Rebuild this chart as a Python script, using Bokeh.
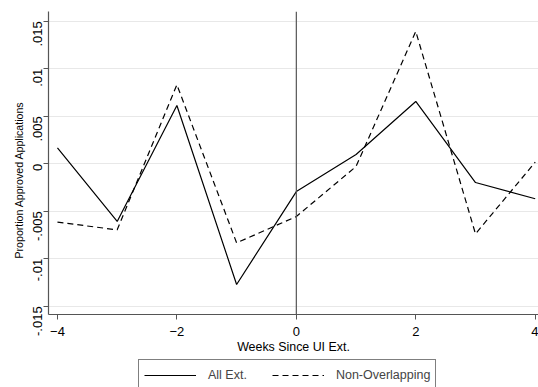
import math
from bokeh.plotting import figure
from bokeh.layouts import column
from bokeh.models import (FixedTicker, CustomJSTickFormatter, Span, Legend, LegendItem, Range1d, Title)
from bokeh.embed import file_html
from bokeh.resources import INLINE

weeks = [-4, -3, -2, -1, 0, 1, 2, 3, 4]
all_ext = [0.00168, -0.00607, 0.00614, -0.0127, -0.00292, 0.00098, 0.00656, -0.00197, -0.00368]
non_overlapping = [-0.00614, -0.00695, 0.00832, -0.00832, -0.00555, -0.00028, 0.01393, -0.00737, 0.00017]
x_ticks = [-4, -2, 0, 2, 4]
y_ticks = [-0.015, -0.01, -0.005, 0, 0.005, 0.01, 0.015]
series_labels = ["All Ext.", "Non-Overlapping"]

FONT = "Liberation Sans"
DASH = "6 4"

p = figure(width=538, height=356, output_backend="svg", toolbar_location=None,
           x_range=Range1d(-4.15, 4.055), y_range=Range1d(-0.01586, 0.01603),
           min_border_left=48, min_border_right=0, min_border_top=11, min_border_bottom=42)
p.outline_line_color = None
p.background_fill_color = "white"
p.border_fill_color = "white"

p.line(weeks, all_ext, line_color="black", line_width=1.2)
p.line(weeks, non_overlapping, line_color="black", line_width=1.2, line_dash=DASH)

p.add_layout(Span(location=0, dimension="height", line_color="#555555", line_width=1.2))

p.xgrid.visible = False
p.ygrid.grid_line_color = "#e8e8e8"
p.ygrid.grid_line_width = 1.2

p.xaxis.ticker = FixedTicker(ticks=x_ticks)
p.yaxis.ticker = FixedTicker(ticks=y_ticks)
p.yaxis.formatter = CustomJSTickFormatter(code="""
var s = (Math.round(tick*1000)/1000).toString();
return s.replace(/^(-?)0\\./, '$1.');
""")
p.yaxis.major_label_orientation = math.pi / 2

for ax in (p.xaxis[0], p.yaxis[0]):
    ax.axis_line_color = "#555555"
    ax.axis_line_width = 1.2
    ax.major_tick_line_color = "#555555"
    ax.major_tick_in = 0
    ax.major_tick_out = 5
    ax.minor_tick_line_color = None
    ax.major_label_text_font = FONT
    ax.major_label_text_font_size = "13px"
    ax.major_label_text_color = "black"
    ax.axis_label_text_font = FONT
    ax.axis_label_text_font_size = "12.4px"
    ax.axis_label_text_font_style = "normal"
    ax.axis_label_text_color = "black"

p.xaxis.axis_label = "Weeks Since UI Ext."
p.xaxis.major_label_standoff = 7
p.xaxis.axis_label_standoff = 1
p.yaxis.major_label_standoff = 6

ytitle = Title(text="Proportion Approved Applications", align="left", offset=56,
               text_font=FONT, text_font_size="10.6px", text_font_style="normal",
               text_color="black", standoff=2)
p.add_layout(ytitle, "left")

# legend strip below
lg = figure(width=538, height=31, output_backend="svg", toolbar_location=None,
            x_range=Range1d(0, 1), y_range=Range1d(0, 1),
            min_border=0, min_border_left=0, min_border_right=0, min_border_top=0, min_border_bottom=0)
lg.axis.visible = False
lg.grid.visible = False
lg.outline_line_color = None
lg.background_fill_color = "white"
lg.border_fill_color = "white"
# legend proxies, placed outside the visible range
g1 = lg.line(x=[5, 6], y=[5, 6], line_color="black", line_width=1.2)
g2 = lg.line(x=[5, 6], y=[5, 6], line_color="black", line_width=1.2, line_dash=DASH)

legend = Legend(items=[LegendItem(label=series_labels[0], renderers=[g1]),
                       LegendItem(label=series_labels[1], renderers=[g2])],
                orientation="horizontal", location=(90, -4))
legend.border_line_color = "black"
legend.border_line_width = 1
legend.label_text_font = FONT
legend.label_text_font_size = "12.5px"
legend.glyph_width = 52
legend.glyph_height = 20
legend.label_height = 20
legend.padding = 5
legend.spacing = 25
legend.margin = 0
legend.label_standoff = 12
lg.add_layout(legend, "center")

layout = column(p, lg, spacing=0)
open("out.html", "w").write(file_html(layout, INLINE))
